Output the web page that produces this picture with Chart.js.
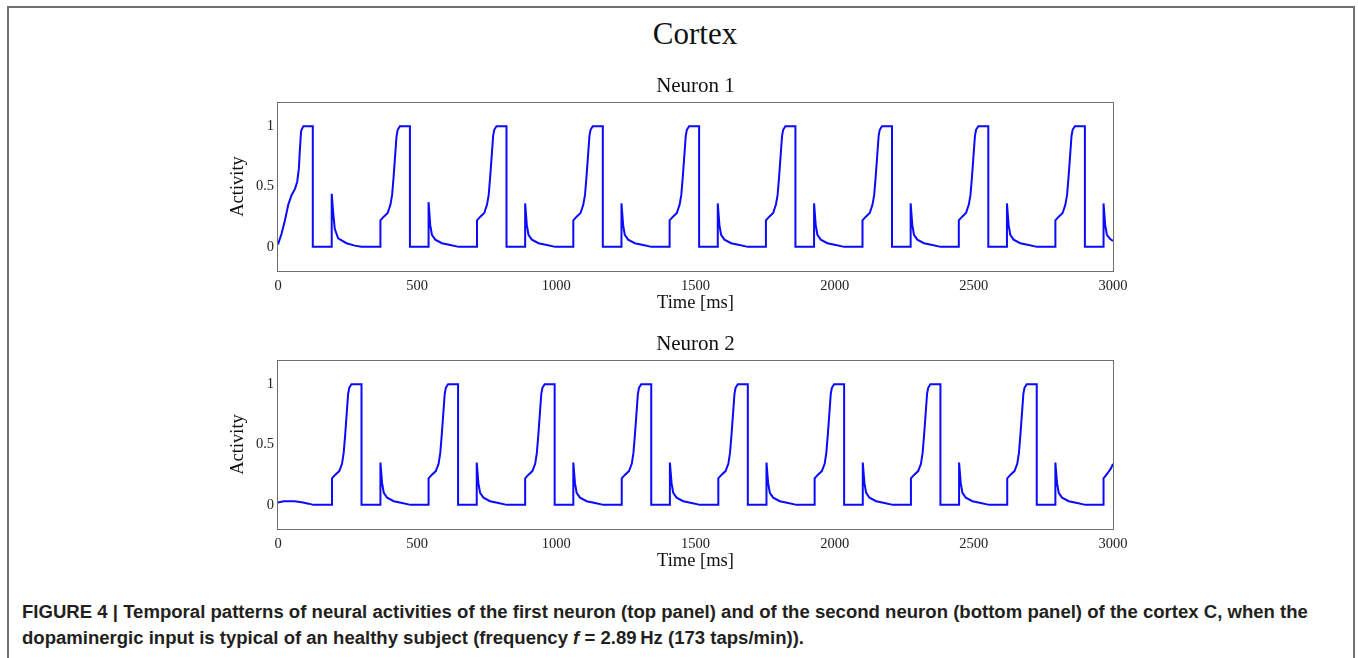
<!DOCTYPE html>
<html>
<head>
<meta charset="utf-8">
<script src="https://cdn.jsdelivr.net/npm/chart.js@4/dist/chart.umd.min.js"></script>
<style>
  html, body { margin: 0; padding: 0; background: #fff; }
  body { width: 1358px; height: 658px; position: relative; overflow: hidden; }
  #frame { position: absolute; left: 7px; top: 6px; width: 1348px; height: 720px;
           border: 2px solid #707070; border-bottom: none; box-sizing: border-box; }
  #mainTitle { position: absolute; left: 0; width: 1390px; top: 18px; text-align: center;
               font: 31px/1 "Liberation Serif", serif; color: #111; }
  .panel { position: absolute; left: 0; }
  #p1 { top: 60px; }
  #p2 { top: 318px; }
  .cap { position: absolute; left: 22px; white-space: nowrap; transform-origin: 0 0;
         font: bold 18px/1 "Liberation Sans", Arial, sans-serif; color: #231f20; }
  #cap1 { top: 603px; }
  #cap2 { top: 629px; }
</style>
</head>
<body>
<div id="frame"></div>
<div id="mainTitle">Cortex</div>
<div class="panel" id="p1"><canvas id="c1" width="1358" height="254"></canvas></div>
<div class="panel" id="p2"><canvas id="c2" width="1358" height="254"></canvas></div>
<div class="cap" id="cap1" data-w="1286">FIGURE 4 | Temporal patterns of neural activities of the first neuron (top panel) and of the second neuron (bottom panel) of the cortex C, when the</div>
<div class="cap" id="cap2" data-w="782">dopaminergic input is typical of an healthy subject (frequency <i>f</i> = 2.89&thinsp;Hz (173 taps/min)).</div>
<script>
// axis ticks
const xTicks = [0, 500, 1000, 1500, 2000, 2500, 3000];
const yTicks = [0, 0.5, 1];

// neuron 1 activity, [time ms, activity]
const neuron1 = [
  [0, 0.02], [13, 0.11], [25, 0.22], [37, 0.35], [49, 0.43], [61, 0.48], [69, 0.54], [75, 0.65], [79, 0.82], [83, 0.96], [91, 1], [125, 1], [125, 0], [193, 0], [193, 0.44], [198, 0.29], [204, 0.15], [216, 0.07], [246, 0.03], [276, 0.01], [300, 0],
  [368, 0], [368, 0.22], [380, 0.25], [394, 0.28], [404, 0.35], [410, 0.43], [415, 0.57], [421, 0.76], [426, 0.92], [430, 0.97], [438, 1], [474, 1], [474, 0], [541, 0], [541, 0.37], [547, 0.18], [553, 0.1], [565, 0.06], [589, 0.03], [619, 0.015], [649, 0],
  [715, 0], [715, 0.22], [727, 0.25], [741, 0.28], [751, 0.35], [757, 0.43], [762, 0.57], [768, 0.76], [773, 0.92], [777, 0.97], [785, 1], [821, 1], [821, 0], [888, 0], [888, 0.36], [894, 0.18], [900, 0.1], [912, 0.06], [936, 0.03], [966, 0.015], [996, 0],
  [1061, 0], [1061, 0.22], [1073, 0.25], [1087, 0.28], [1097, 0.35], [1103, 0.43], [1108, 0.57], [1114, 0.76], [1119, 0.92], [1123, 0.97], [1131, 1], [1167, 1], [1167, 0], [1234, 0], [1234, 0.36], [1240, 0.18], [1246, 0.1], [1258, 0.06], [1282, 0.03], [1312, 0.015], [1342, 0],
  [1407, 0], [1407, 0.22], [1419, 0.25], [1433, 0.28], [1443, 0.35], [1449, 0.43], [1454, 0.57], [1460, 0.76], [1465, 0.92], [1469, 0.97], [1477, 1], [1513, 1], [1513, 0], [1580, 0], [1580, 0.36], [1586, 0.18], [1592, 0.1], [1604, 0.06], [1628, 0.03], [1658, 0.015], [1688, 0],
  [1753, 0], [1753, 0.22], [1765, 0.25], [1779, 0.28], [1789, 0.35], [1795, 0.43], [1800, 0.57], [1806, 0.76], [1811, 0.92], [1815, 0.97], [1823, 1], [1859, 1], [1859, 0], [1926, 0], [1926, 0.36], [1932, 0.18], [1938, 0.1], [1950, 0.06], [1974, 0.03], [2004, 0.015], [2034, 0],
  [2100, 0], [2100, 0.22], [2112, 0.25], [2126, 0.28], [2136, 0.35], [2142, 0.43], [2147, 0.57], [2153, 0.76], [2158, 0.92], [2162, 0.97], [2170, 1], [2206, 1], [2206, 0], [2273, 0], [2273, 0.36], [2279, 0.18], [2285, 0.1], [2297, 0.06], [2321, 0.03], [2351, 0.015], [2381, 0],
  [2446, 0], [2446, 0.22], [2458, 0.25], [2472, 0.28], [2482, 0.35], [2488, 0.43], [2493, 0.57], [2499, 0.76], [2504, 0.92], [2508, 0.97], [2516, 1], [2552, 1], [2552, 0], [2619, 0], [2619, 0.36], [2625, 0.18], [2631, 0.1], [2643, 0.06], [2667, 0.03], [2697, 0.015], [2727, 0],
  [2793, 0], [2793, 0.22], [2805, 0.25], [2819, 0.28], [2829, 0.35], [2835, 0.43], [2840, 0.57], [2846, 0.76], [2851, 0.92], [2855, 0.97], [2863, 1], [2899, 1], [2899, 0], [2966, 0], [2966, 0.36], [2972, 0.18], [2978, 0.1], [2990, 0.065], [3000, 0.05]
];

// neuron 2 activity, [time ms, activity]
const neuron2 = [
  [0, 0.02], [20, 0.03], [60, 0.03], [90, 0.02], [110, 0.01], [127, 0],
  [194, 0], [194, 0.22], [206, 0.25], [220, 0.28], [230, 0.34], [236, 0.43], [241, 0.57], [247, 0.76], [252, 0.92], [256, 0.97], [264, 1], [300, 1], [300, 0], [368, 0], [368, 0.35], [374, 0.18], [380, 0.1], [392, 0.06], [416, 0.03], [446, 0.015], [476, 0],
  [541, 0], [541, 0.22], [553, 0.25], [567, 0.28], [577, 0.34], [583, 0.43], [588, 0.57], [594, 0.76], [599, 0.92], [603, 0.97], [611, 1], [647, 1], [647, 0], [714, 0], [714, 0.35], [720, 0.18], [726, 0.1], [738, 0.06], [762, 0.03], [792, 0.015], [822, 0],
  [888, 0], [888, 0.22], [900, 0.25], [914, 0.28], [924, 0.34], [930, 0.43], [935, 0.57], [941, 0.76], [946, 0.92], [950, 0.97], [958, 1], [994, 1], [994, 0], [1061, 0], [1061, 0.35], [1067, 0.18], [1073, 0.1], [1085, 0.06], [1109, 0.03], [1139, 0.015], [1169, 0],
  [1235, 0], [1235, 0.22], [1247, 0.25], [1261, 0.28], [1271, 0.34], [1277, 0.43], [1282, 0.57], [1288, 0.76], [1293, 0.92], [1297, 0.97], [1305, 1], [1341, 1], [1341, 0], [1408, 0], [1408, 0.35], [1414, 0.18], [1420, 0.1], [1432, 0.06], [1456, 0.03], [1486, 0.015], [1516, 0],
  [1582, 0], [1582, 0.22], [1594, 0.25], [1608, 0.28], [1618, 0.34], [1624, 0.43], [1629, 0.57], [1635, 0.76], [1640, 0.92], [1644, 0.97], [1652, 1], [1688, 1], [1688, 0], [1755, 0], [1755, 0.35], [1761, 0.18], [1767, 0.1], [1779, 0.06], [1803, 0.03], [1833, 0.015], [1863, 0],
  [1928, 0], [1928, 0.22], [1940, 0.25], [1954, 0.28], [1964, 0.34], [1970, 0.43], [1975, 0.57], [1981, 0.76], [1986, 0.92], [1990, 0.97], [1998, 1], [2034, 1], [2034, 0], [2101, 0], [2101, 0.35], [2107, 0.18], [2113, 0.1], [2125, 0.06], [2149, 0.03], [2179, 0.015], [2209, 0],
  [2274, 0], [2274, 0.22], [2286, 0.25], [2300, 0.28], [2310, 0.34], [2316, 0.43], [2321, 0.57], [2327, 0.76], [2332, 0.92], [2336, 0.97], [2344, 1], [2380, 1], [2380, 0], [2447, 0], [2447, 0.35], [2453, 0.18], [2459, 0.1], [2471, 0.06], [2495, 0.03], [2525, 0.015], [2555, 0],
  [2620, 0], [2620, 0.22], [2632, 0.25], [2646, 0.28], [2656, 0.34], [2662, 0.43], [2667, 0.57], [2673, 0.76], [2678, 0.92], [2682, 0.97], [2690, 1], [2726, 1], [2726, 0], [2793, 0], [2793, 0.35], [2799, 0.18], [2805, 0.1], [2817, 0.06], [2841, 0.03], [2871, 0.015], [2901, 0],
  [2966, 0], [2966, 0.22], [2980, 0.26], [2992, 0.3], [3000, 0.34]
];

const SERIF = "'Liberation Serif', 'Times New Roman', serif";

// box around the plot area + panel title above it
const panelFrame = {
  id: "panelFrame",
  beforeDatasetsDraw(chart, args, opts) {
    const { ctx, chartArea: a } = chart;
    ctx.save();
    ctx.strokeStyle = "#6e6e6e";
    ctx.lineWidth = 1;
    ctx.strokeRect(Math.round(a.left) - 0.5, Math.round(a.top) + 0.5,
                   Math.round(a.right - a.left) + 1, Math.round(a.bottom - a.top));
    ctx.restore();
  },
  afterDraw(chart, args, opts) {
    const { ctx, chartArea: a } = chart;
    ctx.save();
    ctx.font = "21px " + SERIF;
    ctx.fillStyle = "#111";
    ctx.textAlign = "center";
    ctx.textBaseline = "alphabetic";
    ctx.fillText(opts.text, (a.left + a.right) / 2, a.top - 10);
    ctx.restore();
  },
};

// plain numbers on the ticks: 1, 0.5, 1000 (no grouping, no trailing .0)
const plainTick = (v) => String(v);

function panelChart(canvas, title, points) {
  return new Chart(canvas, {
    type: "scatter",
    data: {
      datasets: [{
        data: points.map(([x, y]) => ({ x, y })),
        showLine: true,
        borderColor: "#0a0aff",
        borderWidth: 2,
        pointRadius: 0,
        tension: 0,
      }],
    },
    options: {
      responsive: false,
      animation: false,
      events: [],
      layout: { padding: { left: 227, right: 245, top: 42, bottom: 0 } },
      plugins: {
        legend: { display: false },
        tooltip: { enabled: false },
        panelFrame: { text: title },
      },
      scales: {
        x: {
          type: "linear",
          min: 0,
          max: 3000,
          afterBuildTicks: (s) => { s.ticks = xTicks.map((v) => ({ value: v })); },
          afterFit: (s) => { s.height = 43; },
          grid: { display: false, drawTicks: false },
          border: { display: false },
          ticks: { font: { family: SERIF, size: 14.5 }, color: "#222", padding: 6, maxRotation: 0, callback: plainTick },
          title: { display: true, text: "Time [ms]", font: { family: SERIF, size: 18.5 }, color: "#111", padding: 0 },
        },
        y: {
          min: -0.2,
          max: 1.2,
          afterBuildTicks: (s) => { s.ticks = yTicks.map((v) => ({ value: v })); },
          afterFit: (s) => { s.width = 51; },
          grid: { display: false, drawTicks: false },
          border: { display: false },
          ticks: { font: { family: SERIF, size: 14.5 }, color: "#222", padding: 4, callback: plainTick },
          title: { display: true, text: "Activity", font: { family: SERIF, size: 18.5 }, color: "#111", padding: 0 },
        },
      },
    },
    plugins: [panelFrame],
  });
}

panelChart(document.getElementById("c1"), "Neuron 1", neuron1);
panelChart(document.getElementById("c2"), "Neuron 2", neuron2);

// squeeze caption lines to the measured widths of the original
document.querySelectorAll(".cap").forEach((el) => {
  const target = Number(el.dataset.w);
  const w = el.getBoundingClientRect().width;
  if (w > 0) el.style.transform = "scaleX(" + (target / w).toFixed(4) + ")";
});
</script>
</body>
</html>
